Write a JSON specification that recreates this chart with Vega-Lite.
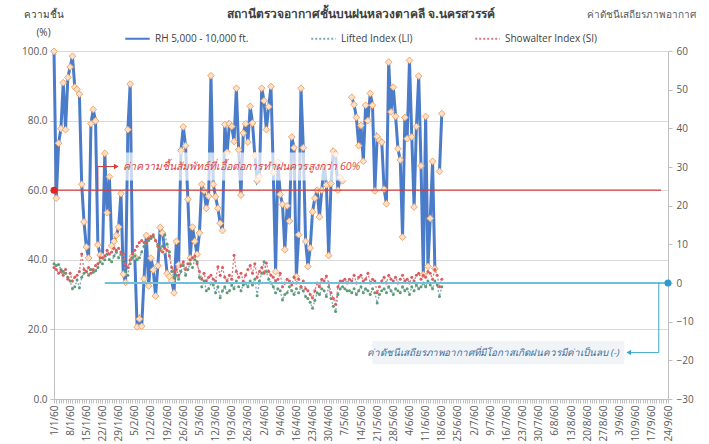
{
"$schema": "https://vega.github.io/schema/vega-lite/v6.json",
"autosize": "none",
"padding": {"left": 54, "top": 51, "right": 41, "bottom": 45},
"width": 614,
"height": 348,
"background": "white",
"title": {"text": "สถานีตรวจอากาศชั้นบนฝนหลวงตาคลี จ.นครสวรรค์", "anchor": "middle", "frame": "group", "fontSize": 12, "fontWeight": "bold", "color": "#404040", "offset": 10, "dy": 22},
"config": {
  "font": "Open Sans, Noto Sans, DejaVu Sans, sans-serif",
  "view": {"stroke": null},
  "axis": {"labelOverlap": false},
  "legend": {"orient": "none", "legendX": 70, "legendY": -26, "direction": "horizontal", "title": null, "symbolType": "stroke", "symbolSize": 600, "symbolStrokeWidth": 2, "labelFontSize": 10, "labelColor": "#404040", "columnPadding": 58, "labelOffset": 4}
},
"datasets": {
"main": [
{"d":"2017-01-01","RH":99.9,"LI":5.0,"SI":4.0},
{"d":"2017-01-02","RH":57.7,"LI":4.5,"SI":3.5},
{"d":"2017-01-03","RH":73.5,"LI":4.8,"SI":2.5},
{"d":"2017-01-04","RH":77.7,"LI":3.5,"SI":3.0},
{"d":"2017-01-05","RH":90.9,"LI":3.0,"SI":2.0},
{"d":"2017-01-06","RH":77.4,"LI":2.5,"SI":3.5},
{"d":"2017-01-07","RH":92.4,"LI":1.5,"SI":1.0},
{"d":"2017-01-08","RH":95.4,"LI":0.5,"SI":2.5},
{"d":"2017-01-09","RH":98.5,"LI":-1.5,"SI":0.5},
{"d":"2017-01-10","RH":89.6,"LI":-1.0,"SI":1.5},
{"d":"2017-01-11","RH":89.0,"LI":0.8,"SI":2.0},
{"d":"2017-01-12","RH":87.6,"LI":-1.2,"SI":3.0},
{"d":"2017-01-13","RH":61.7,"LI":1.5,"SI":7.5},
{"d":"2017-01-14","RH":50.9,"LI":2.5,"SI":3.5},
{"d":"2017-01-15","RH":43.7,"LI":3.0,"SI":3.0},
{"d":"2017-01-16","RH":40.5,"LI":2.0,"SI":4.0},
{"d":"2017-01-17","RH":79.1,"LI":3.5,"SI":2.5},
{"d":"2017-01-18","RH":83.2,"LI":2.8,"SI":3.5},
{"d":"2017-01-19","RH":79.9,"LI":3.2,"SI":4.5},
{"d":"2017-01-20","RH":44.3,"LI":4.0,"SI":5.0},
{"d":"2017-01-21","RH":41.4,"LI":5.5,"SI":6.5},
{"d":"2017-01-22","RH":41.0,"LI":5.0,"SI":6.5},
{"d":"2017-01-23","RH":70.6,"LI":6.0,"SI":7.0},
{"d":"2017-01-24","RH":53.5,"LI":7.5,"SI":8.5},
{"d":"2017-01-25","RH":63.9,"LI":6.0,"SI":7.5},
{"d":"2017-01-26","RH":44.0,"LI":5.5,"SI":8.0},
{"d":"2017-01-27","RH":45.3,"LI":7.0,"SI":9.0},
{"d":"2017-01-28","RH":47.0,"LI":8.0,"SI":8.5},
{"d":"2017-01-29","RH":49.4,"LI":6.5,"SI":9.0},
{"d":"2017-01-30","RH":59.0,"LI":7.5,"SI":8.0},
{"d":"2017-01-31","RH":35.9,"LI":6.0,"SI":7.5},
{"d":"2017-02-01","RH":33.5,"LI":3.0,"SI":5.0},
{"d":"2017-02-02","RH":77.4,"LI":2.0,"SI":4.0},
{"d":"2017-02-03","RH":90.5,"LI":5.0,"SI":6.0},
{"d":"2017-02-04","RH":41.0,"LI":6.5,"SI":7.5},
{"d":"2017-02-05","RH":40.9,"LI":7.0,"SI":8.5},
{"d":"2017-02-06","RH":20.7,"LI":6.0,"SI":9.5},
{"d":"2017-02-07","RH":23.0,"LI":6.5,"SI":10.5},
{"d":"2017-02-08","RH":20.9,"LI":8.0,"SI":11.0},
{"d":"2017-02-09","RH":34.5,"LI":9.5,"SI":10.5},
{"d":"2017-02-10","RH":47.0,"LI":10.0,"SI":10.5},
{"d":"2017-02-11","RH":32.5,"LI":11.0,"SI":11.5},
{"d":"2017-02-12","RH":40.5,"LI":11.5,"SI":12.0},
{"d":"2017-02-13","RH":37.1,"LI":12.0,"SI":12.5},
{"d":"2017-02-14","RH":29.6,"LI":11.0,"SI":11.0},
{"d":"2017-02-15","RH":38.3,"LI":10.0,"SI":9.5},
{"d":"2017-02-16","RH":49.3,"LI":9.0,"SI":8.5},
{"d":"2017-02-17","RH":47.7,"LI":9.5,"SI":8.0},
{"d":"2017-02-18","RH":42.7,"LI":12.5,"SI":9.0},
{"d":"2017-02-19","RH":36.1,"LI":10.0,"SI":8.5},
{"d":"2017-02-20","RH":35.2,"LI":8.0,"SI":7.0},
{"d":"2017-02-21","RH":34.0,"LI":3.0,"SI":4.0},
{"d":"2017-02-22","RH":30.5,"LI":1.5,"SI":3.0},
{"d":"2017-02-23","RH":45.3,"LI":2.0,"SI":3.5},
{"d":"2017-02-24","RH":38.6,"LI":1.0,"SI":2.0},
{"d":"2017-02-25","RH":71.4,"LI":3.0,"SI":4.5},
{"d":"2017-02-26","RH":78.2,"LI":4.5,"SI":5.5},
{"d":"2017-02-27","RH":72.8,"LI":2.0,"SI":3.5},
{"d":"2017-02-28","RH":57.4,"LI":3.5,"SI":5.0},
{"d":"2017-03-01","RH":40.5,"LI":5.0,"SI":6.0},
{"d":"2017-03-02","RH":49.4,"LI":4.0,"SI":6.5},
{"d":"2017-03-03","RH":45.3,"LI":6.0,"SI":7.0},
{"d":"2017-03-04","RH":41.6,"LI":5.5,"SI":5.0},
{"d":"2017-03-05","RH":47.7,"LI":1.5,"SI":3.0},
{"d":"2017-03-06","RH":61.7,"LI":-1.0,"SI":1.0},
{"d":"2017-03-07","RH":59.8,"LI":0.5,"SI":2.5},
{"d":"2017-03-08","RH":54.8,"LI":-2.0,"SI":0.5},
{"d":"2017-03-09","RH":58.3,"LI":-1.5,"SI":1.5},
{"d":"2017-03-10","RH":92.9,"LI":0.0,"SI":2.0},
{"d":"2017-03-11","RH":61.7,"LI":-0.5,"SI":1.0},
{"d":"2017-03-12","RH":58.1,"LI":-2.5,"SI":0.5},
{"d":"2017-03-13","RH":54.8,"LI":-1.0,"SI":4.2},
{"d":"2017-03-14","RH":50.5,"LI":-3.8,"SI":2.0},
{"d":"2017-03-15","RH":48.4,"LI":-2.0,"SI":4.0},
{"d":"2017-03-16","RH":78.9,"LI":-1.0,"SI":1.5},
{"d":"2017-03-17","RH":70.9,"LI":-2.5,"SI":0.5},
{"d":"2017-03-18","RH":79.1,"LI":-2.0,"SI":2.0},
{"d":"2017-03-19","RH":78.3,"LI":-0.5,"SI":1.0},
{"d":"2017-03-20","RH":74.0,"LI":-1.5,"SI":7.2},
{"d":"2017-03-21","RH":89.3,"LI":0.5,"SI":3.0},
{"d":"2017-03-22","RH":71.6,"LI":-1.0,"SI":1.5},
{"d":"2017-03-23","RH":58.6,"LI":-2.0,"SI":2.5},
{"d":"2017-03-24","RH":76.4,"LI":-0.5,"SI":0.5},
{"d":"2017-03-25","RH":79.1,"LI":0.0,"SI":2.0},
{"d":"2017-03-26","RH":73.8,"LI":-1.0,"SI":3.5},
{"d":"2017-03-27","RH":84.1,"LI":0.5,"SI":4.5},
{"d":"2017-03-28","RH":79.3,"LI":-0.5,"SI":2.5},
{"d":"2017-03-29","RH":70.0,"LI":1.0,"SI":5.0},
{"d":"2017-03-30","RH":62.7,"LI":-3.3,"SI":1.5},
{"d":"2017-03-31","RH":63.9,"LI":0.5,"SI":3.0},
{"d":"2017-04-01","RH":89.3,"LI":2.5,"SI":4.0},
{"d":"2017-04-02","RH":85.7,"LI":5.5,"SI":2.5},
{"d":"2017-04-03","RH":77.4,"LI":3.0,"SI":5.2},
{"d":"2017-04-04","RH":84.0,"LI":1.0,"SI":3.0},
{"d":"2017-04-05","RH":89.8,"LI":0.0,"SI":2.0},
{"d":"2017-04-06","RH":65.1,"LI":-1.0,"SI":1.5},
{"d":"2017-04-07","RH":36.6,"LI":-2.5,"SI":0.5},
{"d":"2017-04-08","RH":68.0,"LI":-1.5,"SI":1.0},
{"d":"2017-04-09","RH":58.8,"LI":-2.0,"SI":2.5},
{"d":"2017-04-10","RH":55.9,"LI":-4.4,"SI":-1.0},
{"d":"2017-04-11","RH":42.9,"LI":-3.0,"SI":0.0},
{"d":"2017-04-12","RH":55.5,"LI":-2.5,"SI":1.0},
{"d":"2017-04-13","RH":51.1,"LI":-1.0,"SI":0.5},
{"d":"2017-04-14","RH":75.3,"LI":-2.0,"SI":-0.5},
{"d":"2017-04-15","RH":72.2,"LI":-3.0,"SI":1.5},
{"d":"2017-04-16","RH":35.2,"LI":-1.5,"SI":0.0},
{"d":"2017-04-17","RH":47.2,"LI":-2.5,"SI":1.0},
{"d":"2017-04-18","RH":89.3,"LI":-1.0,"SI":-1.0},
{"d":"2017-04-19","RH":72.2,"LI":-2.0,"SI":0.5},
{"d":"2017-04-20","RH":45.3,"LI":-3.5,"SI":-1.5},
{"d":"2017-04-21","RH":38.1,"LI":-4.0,"SI":-2.0},
{"d":"2017-04-22","RH":43.4,"LI":-5.0,"SI":-3.0},
{"d":"2017-04-23","RH":53.8,"LI":-6.5,"SI":-3.9},
{"d":"2017-04-24","RH":57.7,"LI":-4.5,"SI":-2.0},
{"d":"2017-04-25","RH":60.0,"LI":-2.5,"SI":0.0},
{"d":"2017-04-26","RH":52.3,"LI":-3.0,"SI":-1.0},
{"d":"2017-04-27","RH":60.0,"LI":-1.5,"SI":1.0},
{"d":"2017-04-28","RH":67.3,"LI":-2.0,"SI":0.5},
{"d":"2017-04-29","RH":61.5,"LI":-3.5,"SI":1.8},
{"d":"2017-04-30","RH":41.2,"LI":-1.0,"SI":0.0},
{"d":"2017-05-01","RH":61.9,"LI":-4.0,"SI":-2.5},
{"d":"2017-05-02","RH":71.2,"LI":-6.0,"SI":-4.0},
{"d":"2017-05-03","RH":70.4,"LI":-7.4,"SI":-5.5},
{"d":"2017-05-04","RH":60.0,"LI":-3.0,"SI":-1.0},
{"d":"2017-05-05","RH":63.7,"LI":-1.5,"SI":0.5},
{"d":"2017-05-06","RH":62.7,"LI":-1.0,"SI":0.5},
{"d":"2017-05-07","RH":null,"LI":-1.5,"SI":1.0},
{"d":"2017-05-08","RH":null,"LI":-2.0,"SI":0.0},
{"d":"2017-05-09","RH":null,"LI":-2.0,"SI":1.0},
{"d":"2017-05-10","RH":86.7,"LI":-2.5,"SI":0.5},
{"d":"2017-05-11","RH":84.6,"LI":-1.5,"SI":2.0},
{"d":"2017-05-12","RH":80.9,"LI":-3.0,"SI":0.0},
{"d":"2017-05-13","RH":72.8,"LI":-2.0,"SI":1.5},
{"d":"2017-05-14","RH":78.6,"LI":-1.0,"SI":2.0},
{"d":"2017-05-15","RH":68.3,"LI":-2.5,"SI":0.5},
{"d":"2017-05-16","RH":84.4,"LI":-1.5,"SI":1.0},
{"d":"2017-05-17","RH":80.0,"LI":-2.0,"SI":2.5},
{"d":"2017-05-18","RH":87.8,"LI":-3.0,"SI":0.0},
{"d":"2017-05-19","RH":84.4,"LI":-1.5,"SI":1.0},
{"d":"2017-05-20","RH":59.8,"LI":-2.5,"SI":0.5},
{"d":"2017-05-21","RH":75.4,"LI":-5.2,"SI":-2.5},
{"d":"2017-05-22","RH":74.3,"LI":-3.0,"SI":-1.0},
{"d":"2017-05-23","RH":73.8,"LI":-2.0,"SI":0.5},
{"d":"2017-05-24","RH":60.3,"LI":-1.5,"SI":1.5},
{"d":"2017-05-25","RH":56.1,"LI":-2.5,"SI":0.0},
{"d":"2017-05-26","RH":96.8,"LI":-1.0,"SI":2.0},
{"d":"2017-05-27","RH":82.5,"LI":-2.0,"SI":1.0},
{"d":"2017-05-28","RH":89.6,"LI":-3.0,"SI":0.5},
{"d":"2017-05-29","RH":81.2,"LI":-1.5,"SI":1.5},
{"d":"2017-05-30","RH":71.9,"LI":-2.0,"SI":0.0},
{"d":"2017-05-31","RH":68.7,"LI":-2.5,"SI":1.0},
{"d":"2017-06-01","RH":46.5,"LI":-1.0,"SI":2.0},
{"d":"2017-06-02","RH":80.9,"LI":-2.0,"SI":0.5},
{"d":"2017-06-03","RH":74.8,"LI":-1.5,"SI":1.0},
{"d":"2017-06-04","RH":97.3,"LI":-3.0,"SI":0.0},
{"d":"2017-06-05","RH":75.3,"LI":-1.0,"SI":1.5},
{"d":"2017-06-06","RH":55.2,"LI":-2.0,"SI":0.5},
{"d":"2017-06-07","RH":78.3,"LI":-0.5,"SI":2.0},
{"d":"2017-06-08","RH":92.8,"LI":-1.5,"SI":2.5},
{"d":"2017-06-09","RH":67.0,"LI":-1.0,"SI":1.0},
{"d":"2017-06-10","RH":35.7,"LI":0.0,"SI":2.0},
{"d":"2017-06-11","RH":81.2,"LI":-1.0,"SI":1.5},
{"d":"2017-06-12","RH":38.1,"LI":0.5,"SI":3.0},
{"d":"2017-06-13","RH":51.9,"LI":-0.5,"SI":2.5},
{"d":"2017-06-14","RH":68.3,"LI":-1.5,"SI":1.0},
{"d":"2017-06-15","RH":37.4,"LI":0.5,"SI":3.5},
{"d":"2017-06-16","RH":null,"LI":-0.5,"SI":2.0},
{"d":"2017-06-17","RH":65.4,"LI":-3.5,"SI":-1.0},
{"d":"2017-06-18","RH":82.0,"LI":-1.0,"SI":1.0}
]
},
"encoding": {
  "x": {"field": "d", "type": "temporal",
    "scale": {"type": "utc", "domain": [{"year": 2017, "month": 1, "date": 1, "utc": true}, {"year": 2017, "month": 9, "date": 24, "utc": true}]},
    "axis": {"title": null, "grid": false, "tickCount": {"interval": "day", "step": 1}, "labelOverlap": false, "labelBound": false, "labelFlush": false,
      "labelExpr": "round((datum.value - 1483228800000) / 86400000) % 7 == 0 ? utcdate(datum.value) + '/' + (utcmonth(datum.value) + 1) + '/60' : ''",
      "labelAngle": -90, "labelFontSize": 10, "labelColor": "#595959", "labelPadding": 2, "domainColor": "#BFBFBF", "tickColor": "#BFBFBF", "tickSize": 4}}
},
"layer": [
  {"layer": [
    {"data": {"name": "main"},
     "transform": [{"fold": ["RH"], "as": ["s", "v"]}],
     "mark": {"type": "line", "strokeWidth": 3, "invalid": "break-paths-filter-domains"},
     "encoding": {
       "y": {"field": "v", "type": "quantitative", "scale": {"domain": [0, 100], "nice": false},
         "axis": {"title": ["ความชื้น", "(%)"], "titleAngle": 0, "titleAlign": "center", "titleBaseline": "top", "titleX": -11, "titleY": -42, "titleFontSize": 10, "titleFontWeight": "normal", "titleColor": "#404040", "titleLineHeight": 18,
           "values": [0, 10, 20, 30, 40, 50, 60, 70, 80, 90, 100], "format": ".1f", "labelFontSize": 10, "labelColor": "#595959", "labelOverlap": false, "labelBound": false, "grid": true, "gridColor": "#D9D9D9", "domainColor": "#BFBFBF", "tickColor": "#BFBFBF", "tickSize": 4, "labelPadding": 3}},
       "color": {"field": "s", "type": "nominal", "scale": {"domain": ["RH", "LI", "SI"], "range": ["#4A7CC9", "#7FA8B8", "#E0787A"]},
         "legend": {"labelExpr": "datum.label == 'RH' ? 'RH 5,000 - 10,000 ft.' : datum.label == 'LI' ? 'Lifted Index (LI)' : 'Showalter Index (SI)'"}},
       "strokeDash": {"field": "s", "type": "nominal", "scale": {"domain": ["RH", "LI", "SI"], "range": [[1, 0], [2, 2], [2, 2]]},
         "legend": {"labelExpr": "datum.label == 'RH' ? 'RH 5,000 - 10,000 ft.' : datum.label == 'LI' ? 'Lifted Index (LI)' : 'Showalter Index (SI)'"}}
     }},
    {"data": {"name": "main"},
     "mark": {"type": "point", "shape": "diamond", "filled": true, "fill": "#FCE0C8", "stroke": "#F2A66A", "strokeWidth": 1, "size": 45, "opacity": 1},
     "encoding": {"y": {"field": "RH", "type": "quantitative", "scale": {"domain": [0, 100], "nice": false}}}},
    {"data": {"values": [{"d": "2017-01-01", "d2": "2017-09-21", "v": 60}]},
     "mark": {"type": "rule", "color": "#D93A3A", "strokeWidth": 1.2},
     "encoding": {"x2": {"field": "d2"}, "y": {"field": "v", "type": "quantitative", "scale": {"domain": [0, 100], "nice": false}}}},
    {"data": {"values": [{"d": "2017-01-20", "d2": "2017-01-20", "v": 60, "v2": 66.8}, {"d": "2017-01-20", "d2": "2017-01-28", "v": 66.8, "v2": 66.8}]},
     "mark": {"type": "rule", "color": "#D93A3A", "strokeWidth": 1},
     "encoding": {"x2": {"field": "d2"}, "y": {"field": "v", "type": "quantitative", "scale": {"domain": [0, 100], "nice": false}}, "y2": {"field": "v2"}}},
    {"data": {"values": [{"d": "2017-01-28", "v": 66.8}]},
     "mark": {"type": "point", "shape": "triangle-right", "filled": true, "color": "#D93A3A", "size": 30, "opacity": 1},
     "encoding": {"y": {"field": "v", "type": "quantitative", "scale": {"domain": [0, 100], "nice": false}}}},
    {"data": {"values": [{"d": "2017-01-01", "v": 60}]},
     "mark": {"type": "point", "shape": "circle", "filled": true, "color": "#E0262A", "size": 50, "opacity": 1},
     "encoding": {"y": {"field": "v", "type": "quantitative", "scale": {"domain": [0, 100], "nice": false}}}},
    {"data": {"values": [{"d": "2017-01-30", "d2": "2017-05-09", "v": 62.8, "v2": 70.8}]},
     "mark": {"type": "rect", "fill": "white", "opacity": 0.7},
     "encoding": {"x2": {"field": "d2"}, "y": {"field": "v", "type": "quantitative", "scale": {"domain": [0, 100], "nice": false}}, "y2": {"field": "v2"}}},
    {"data": {"values": [{"d": "2017-01-31", "v": 66.8, "t": "ค่าความชื้นสัมพัทธ์ที่เอื้อต่อการทำฝนควรสูงกว่า 60%"}]},
     "mark": {"type": "text", "align": "left", "baseline": "middle", "fontStyle": "italic", "fontSize": 10.6, "color": "#E0403A"},
     "encoding": {"y": {"field": "v", "type": "quantitative", "scale": {"domain": [0, 100], "nice": false}}, "text": {"field": "t"}}}
  ]},
  {"layer": [
    {"data": {"name": "main"},
     "transform": [{"fold": ["LI", "SI"], "as": ["s", "v"]}],
     "mark": {"type": "line", "strokeWidth": 1.3},
     "encoding": {
       "y": {"field": "v", "type": "quantitative", "scale": {"domain": [-30, 60], "nice": false},
         "axis": {"orient": "right", "title": "ค่าดัชนีเสถียรภาพอากาศ", "titleAngle": 0, "titleAlign": "right", "titleBaseline": "top", "titleX": 27, "titleY": -42, "titleFontSize": 10, "titleFontWeight": "normal", "titleColor": "#595959",
           "tickCount": 10, "labelOverlap": false, "labelSeparation": 0, "labelBound": false, "labelFontSize": 10, "labelColor": "#595959", "grid": false, "domainColor": "#BFBFBF", "tickColor": "#BFBFBF", "tickSize": 4, "labelPadding": 4}},
       "color": {"field": "s", "type": "nominal"},
       "strokeDash": {"field": "s", "type": "nominal"}
     }},
    {"data": {"name": "main"},
     "mark": {"type": "point", "shape": "circle", "filled": true, "color": "#5E9C72", "size": 9, "opacity": 1},
     "encoding": {"y": {"field": "LI", "type": "quantitative", "scale": {"domain": [-30, 60], "nice": false}}}},
    {"data": {"name": "main"},
     "mark": {"type": "point", "shape": "circle", "filled": true, "color": "#D95C60", "size": 9, "opacity": 1},
     "encoding": {"y": {"field": "SI", "type": "quantitative", "scale": {"domain": [-30, 60], "nice": false}}}},
    {"data": {"values": [{"d": "2017-01-23", "d2": "2017-09-24", "v": 0}]},
     "mark": {"type": "rule", "color": "#6EC0DC", "strokeWidth": 2},
     "encoding": {"x2": {"field": "d2"}, "y": {"field": "v", "type": "quantitative", "scale": {"domain": [-30, 60], "nice": false}}}},
    {"data": {"values": [{"d": "2017-09-20", "d2": "2017-09-20", "v": 0, "v2": -18}, {"d": "2017-09-08", "d2": "2017-09-20", "v": -18, "v2": -18}]},
     "mark": {"type": "rule", "color": "#3FA7C9", "strokeWidth": 1},
     "encoding": {"x2": {"field": "d2"}, "y": {"field": "v", "type": "quantitative", "scale": {"domain": [-30, 60], "nice": false}}, "y2": {"field": "v2"}}},
    {"data": {"values": [{"d": "2017-09-07", "v": -18}]},
     "mark": {"type": "point", "shape": "triangle-left", "filled": true, "color": "#3FA7C9", "size": 30, "opacity": 1},
     "encoding": {"y": {"field": "v", "type": "quantitative", "scale": {"domain": [-30, 60], "nice": false}}}},
    {"data": {"values": [{"d": "2017-09-24", "v": 0}]},
     "mark": {"type": "point", "shape": "circle", "filled": true, "color": "#2E9BD0", "size": 50, "opacity": 1},
     "encoding": {"y": {"field": "v", "type": "quantitative", "scale": {"domain": [-30, 60], "nice": false}}}},
    {"data": {"values": [{"d": "2017-05-19", "d2": "2017-09-05", "v": -15, "v2": -21}]},
     "mark": {"type": "rect", "fill": "#F0F3F5", "opacity": 0.9},
     "encoding": {"x2": {"field": "d2"}, "y": {"field": "v", "type": "quantitative", "scale": {"domain": [-30, 60], "nice": false}}, "y2": {"field": "v2"}}},
    {"data": {"values": [{"d": "2017-09-03", "v": -18, "t": "ค่าดัชนีเสถียรภาพอากาศที่มีโอกาสเกิดฝนควรมีค่าเป็นลบ (-)"}]},
     "mark": {"type": "text", "align": "right", "baseline": "middle", "fontStyle": "italic", "fontSize": 9.8, "color": "#3C6E9E"},
     "encoding": {"y": {"field": "v", "type": "quantitative", "scale": {"domain": [-30, 60], "nice": false}}, "text": {"field": "t"}}}
  ]}
],
"resolve": {"scale": {"y": "independent"}}
}
